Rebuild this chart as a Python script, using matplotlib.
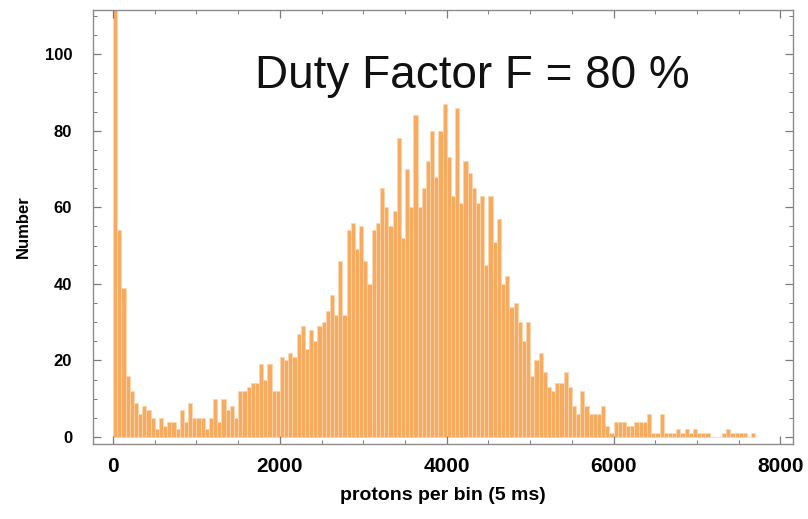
import numpy as np
import matplotlib
matplotlib.use('Agg')
import matplotlib.pyplot as plt
from matplotlib.ticker import MultipleLocator

# histogram of protons per 5 ms bin, bin width 50
bin_width = 50
counts = [
    150, 54, 39, 16, 12, 9, 6, 8, 7, 5,
    2, 5, 3, 4, 4, 2, 7, 4, 9, 5,
    5, 5, 2, 5, 10, 4, 10, 7, 8, 5,
    12, 12, 13, 14, 14, 19, 15, 19, 12, 12,
    21, 20, 22, 21, 27, 29, 23, 28, 25, 29,
    30, 33, 37, 32, 46, 32, 54, 56, 49, 55,
    46, 40, 54, 56, 65, 60, 55, 59, 78, 52,
    70, 60, 84, 60, 65, 72, 80, 68, 80, 87,
    73, 63, 86, 61, 72, 69, 65, 61, 63, 45,
    63, 51, 57, 40, 42, 34, 35, 30, 25, 30,
    16, 20, 22, 17, 13, 12, 14, 14, 17, 13,
    8, 6, 12, 8, 6, 6, 6, 8, 3, 1,
    4, 4, 4, 3, 3, 4, 4, 4, 6, 1,
    1, 6, 1, 1, 1, 2, 1, 2, 1, 2,
    1, 1, 1, 0, 0, 0, 1, 2, 1, 1,
    1, 1, 0, 1,
]
left_edges = np.arange(len(counts)) * bin_width

x_ticks = [0, 2000, 4000, 6000, 8000]
y_ticks = [0, 20, 40, 60, 80, 100]
label_text = 'Duty Factor F = 80 %'

plt.rcParams['font.family'] = ['Liberation Sans', 'DejaVu Sans']

fig = plt.figure(figsize=(8.08, 5.19), dpi=100)
ax = fig.add_axes([93 / 808, 1 - 444 / 519, 700 / 808, 434 / 519])

ax.bar(left_edges, counts, width=bin_width, align='edge',
       color='#f8ab5e', edgecolor='#fcd6ae', linewidth=0.6)

ax.set_xlim(-240, 8150)
ax.set_ylim(-1.8, 111.5)

ax.set_xticks(x_ticks)
ax.set_yticks(y_ticks)
ax.xaxis.set_minor_locator(MultipleLocator(500))
ax.yaxis.set_minor_locator(MultipleLocator(5))

for side in ax.spines.values():
    side.set_color('#8c8c8c')
    side.set_linewidth(1.0)

ax.tick_params(which='both', direction='in', top=True, right=True,
               color='#7a7a7a')
ax.tick_params(which='major', length=6, width=0.9)
ax.tick_params(which='minor', length=3, width=0.7)
ax.tick_params(axis='x', which='major', labelsize=15, pad=9)
ax.tick_params(axis='y', which='major', labelsize=12, pad=15)
for lab in ax.get_xticklabels() + ax.get_yticklabels():
    lab.set_fontweight('bold')

ax.set_xlabel('protons per bin (5 ms)', fontsize=14, fontweight='bold',
              labelpad=8)
ax.set_ylabel('Number', fontsize=12, fontweight='bold', labelpad=10)

ax.text(0.231, 0.848, label_text, transform=ax.transAxes,
        fontsize=33, ha='left', va='center', color='#111111')

fig.savefig('out.png', dpi=100)
